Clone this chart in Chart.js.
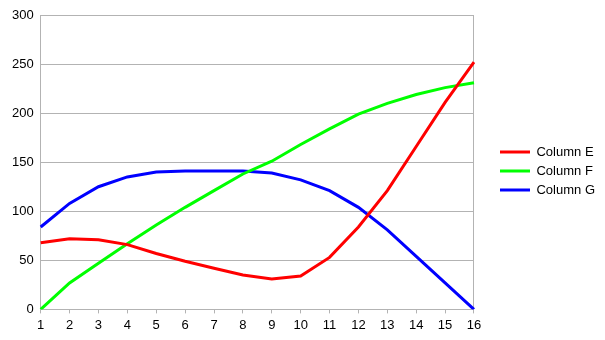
<!DOCTYPE html>
<html>
<head>
<meta charset="utf-8">
<script src="https://cdn.jsdelivr.net/npm/chart.js@4"></script>
<style>
  html, body { margin: 0; padding: 0; background: #ffffff; }
  #wrap { width: 605px; height: 340px; }
</style>
</head>
<body>
<div id="wrap"><canvas id="chart"></canvas></div>
<script>
// data
const labels = ["1", "2", "3", "4", "5", "6", "7", "8", "9", "10", "11", "12", "13", "14", "15", "16"];
const columnE = [68, 72, 71, 66, 57, 49, 42, 35, 31, 34, 53, 84, 121, 166, 211, 252];
const columnF = [0, 27, 47, 67, 86, 104, 121, 138, 151, 168, 184, 199, 210, 219, 226, 231];
const columnG = [84, 108, 125, 135, 140, 141, 141, 141, 139, 132, 121, 104, 81, 54, 27, 0];
const yTicks = [0, 50, 100, 150, 200, 250, 300];

const GRID = "#b3b3b3";
const FONT = { family: "'Liberation Sans', Arial, sans-serif", size: 13 };

function series(label, data, color) {
  return {
    label: label,
    data: data,
    borderColor: color,
    backgroundColor: color,
    borderWidth: 3,
    pointRadius: 0,
    tension: 0,
    fill: false,
  };
}

// push the legend a bit further right than chart.js puts it
const legendShift = {
  id: "legendShift",
  afterLayout(chart) {
    const lg = chart.legend;
    lg.left += 20;
    lg.right += 20;
    lg.top -= 5;
    lg.bottom -= 5;
  },
};

new Chart(document.getElementById("chart"), {
  type: "line",
  data: {
    labels: labels,
    datasets: [
      series("Column E", columnE, "#ff0000"),
      series("Column F", columnF, "#00ff00"),
      series("Column G", columnG, "#0000ff"),
    ],
  },
  options: {
    responsive: true,
    maintainAspectRatio: false,
    animation: false,
    layout: { padding: { top: 15, right: 20, bottom: 3, left: 5 } },
    scales: {
      x: {
        offset: false,
        grid: {
          color: (ctx) => (ctx.index === labels.length - 1 ? GRID : "transparent"),
          tickColor: GRID,
          tickLength: 4,
        },
        border: { color: GRID },
        ticks: { color: "#000000", font: FONT, padding: 4, maxRotation: 0, autoSkip: false },
      },
      y: {
        min: 0,
        max: 300,
        afterBuildTicks: (scale) => {
          scale.ticks = yTicks.map((v) => ({ value: v }));
        },
        grid: { color: GRID, drawTicks: false },
        border: { color: GRID },
        ticks: { color: "#000000", font: FONT, padding: 7 },
      },
    },
    plugins: {
      legend: {
        position: "right",
        align: "center",
        labels: {
          color: "#000000",
          font: FONT,
          boxWidth: 30,
          boxHeight: 3,
          padding: 6,
          generateLabels: (chart) =>
            Chart.defaults.plugins.legend.labels
              .generateLabels(chart)
              .map((item) => Object.assign(item, { lineWidth: 0 })),
        },
      },
      tooltip: { enabled: false },
    },
  },
  plugins: [legendShift],
});
</script>
</body>
</html>
